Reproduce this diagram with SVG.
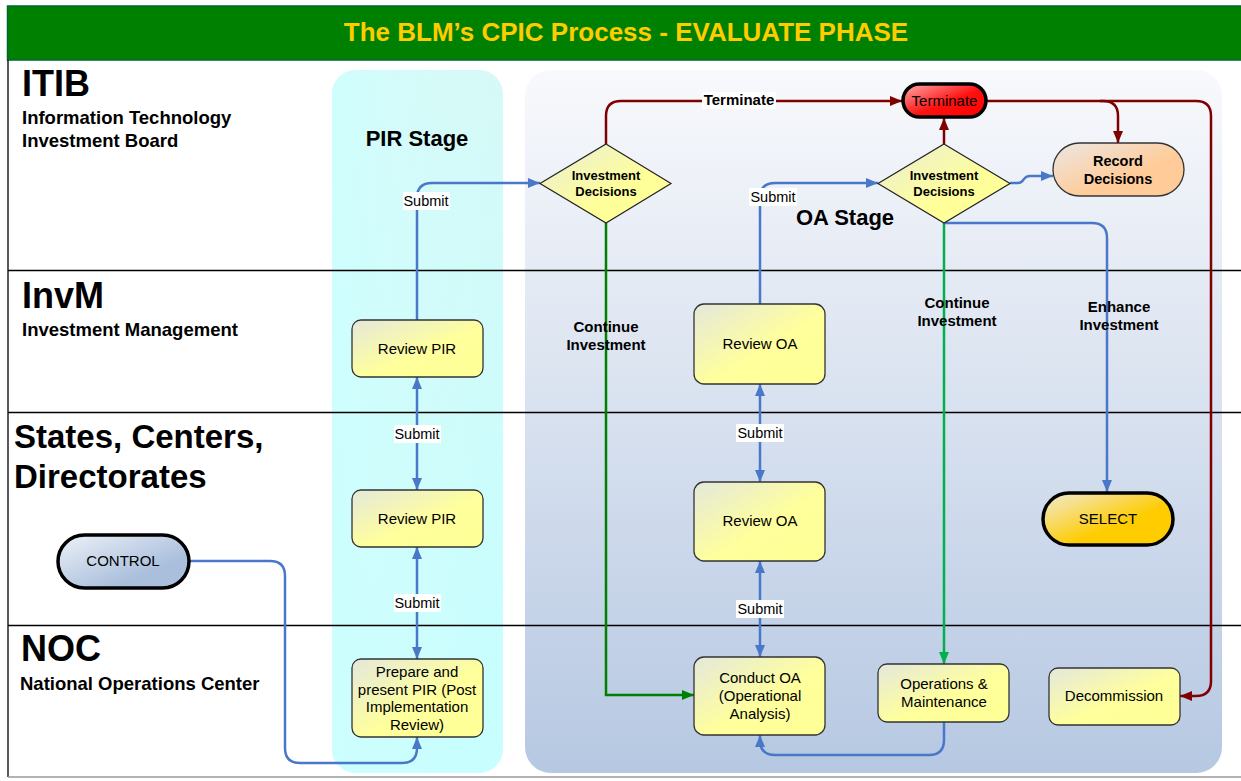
<svg xmlns="http://www.w3.org/2000/svg" width="1241" height="781" viewBox="0 0 1241 781">
  <defs>
    <linearGradient id="gProc" x1="0" y1="0" x2="1" y2="1">
      <stop offset="0" stop-color="#e4e8dc"/>
      <stop offset="0.55" stop-color="#ffff9c"/>
      <stop offset="1" stop-color="#ffff96"/>
    </linearGradient>
    <linearGradient id="gDiam" x1="0" y1="0" x2="1" y2="1">
      <stop offset="0" stop-color="#e8ecd8"/>
      <stop offset="0.6" stop-color="#ffff99"/>
    </linearGradient>
    <linearGradient id="gRecord" x1="0" y1="0" x2="1" y2="1">
      <stop offset="0" stop-color="#ece6e4"/>
      <stop offset="0.6" stop-color="#ffcc99"/>
    </linearGradient>
    <linearGradient id="gTerm" x1="0" y1="0" x2="1" y2="1">
      <stop offset="0" stop-color="#ffb0b0"/>
      <stop offset="0.55" stop-color="#ff1010"/>
      <stop offset="1" stop-color="#ff0000"/>
    </linearGradient>
    <linearGradient id="gSelect" x1="0" y1="0" x2="1" y2="1">
      <stop offset="0" stop-color="#f0ead8"/>
      <stop offset="0.6" stop-color="#ffcc00"/>
    </linearGradient>
    <linearGradient id="gControl" x1="0" y1="0" x2="1" y2="1">
      <stop offset="0" stop-color="#eef2f8"/>
      <stop offset="0.7" stop-color="#aabfdc"/>
    </linearGradient>
    <linearGradient id="gPir" x1="0" y1="0" x2="0.6" y2="1">
      <stop offset="0" stop-color="#e4f6f2"/>
      <stop offset="0.5" stop-color="#d4faf8"/>
      <stop offset="1" stop-color="#c8fefe"/>
    </linearGradient>
    <linearGradient id="gPirH" x1="0" y1="0" x2="1" y2="0">
      <stop offset="0" stop-color="#ccffff" stop-opacity="0.9"/>
      <stop offset="1" stop-color="#ccffff" stop-opacity="0"/>
    </linearGradient>
    <linearGradient id="gOa" x1="0" y1="0" x2="0" y2="1">
      <stop offset="0" stop-color="#f8f9fc"/>
      <stop offset="1" stop-color="#b6c8e2"/>
    </linearGradient>
    <marker id="aBlue" viewBox="0 0 12 10" refX="12" refY="5" markerWidth="12" markerHeight="10" markerUnits="userSpaceOnUse" orient="auto-start-reverse">
      <path d="M0,0 L12,5 L0,10 z" fill="#4a78c8"/>
    </marker>
    <marker id="aRed" viewBox="0 0 12 10" refX="12" refY="5" markerWidth="12" markerHeight="10" markerUnits="userSpaceOnUse" orient="auto-start-reverse">
      <path d="M0,0 L12,5 L0,10 z" fill="#800000"/>
    </marker>
    <marker id="aGreen" viewBox="0 0 12 10" refX="12" refY="5" markerWidth="12" markerHeight="10" markerUnits="userSpaceOnUse" orient="auto-start-reverse">
      <path d="M0,0 L12,5 L0,10 z" fill="#008000"/>
    </marker>
    <marker id="aGreen2" viewBox="0 0 12 10" refX="12" refY="5" markerWidth="12" markerHeight="10" markerUnits="userSpaceOnUse" orient="auto-start-reverse">
      <path d="M0,0 L12,5 L0,10 z" fill="#00b050"/>
    </marker>
  </defs>
  <style>
    text { font-family: "Liberation Sans", Arial, sans-serif; fill: #000; }
    .title { font-size: 26px; font-weight: bold; fill: #ffcc00; }
    .lane { font-size: 36px; font-weight: bold; }
    .lane2 { font-size: 33px; font-weight: bold; }
    .sub { font-size: 18.5px; font-weight: bold; }
    .stage { font-size: 22px; font-weight: bold; }
    .node { font-size: 15px; }
    .bnode { font-size: 14.5px; font-weight: bold; }
    .dnode { font-size: 13px; font-weight: bold; }
    .lbl { font-size: 14.5px; }
    .blbl { font-size: 15px; font-weight: bold; }
    .proc { fill: url(#gProc); stroke: #333; stroke-width: 1.3; }
    .cb { fill: none; stroke: #4a78c8; stroke-width: 2.5; }
    .cr { fill: none; stroke: #800000; stroke-width: 2.5; }
    .cg { fill: none; stroke: #008000; stroke-width: 2.5; }
    .cg2 { fill: none; stroke: #00b050; stroke-width: 2.5; }
    .lanes { stroke: #000; stroke-width: 1.3; }
  </style>

  <!-- canvas and title bar -->
  <rect x="0" y="0" width="1241" height="781" fill="#fff"/>
  <rect x="7.5" y="6" width="1240" height="54" fill="#008000" stroke="#063" stroke-width="1.5"/>
  <text class="title" x="626" y="41" text-anchor="middle">The BLM’s CPIC Process - EVALUATE PHASE</text>

  <!-- stage panels -->
  <rect x="332" y="70" width="171" height="703" rx="24" fill="url(#gPir)"/>
  <rect x="332" y="70" width="171" height="703" rx="24" fill="url(#gPirH)"/>
  <rect x="525" y="70" width="697" height="703" rx="26" fill="url(#gOa)"/>

  <!-- swim lane rules -->
  <g class="lanes">
    <line x1="8" y1="60" x2="8" y2="777"/>
    <line x1="8" y1="270.5" x2="1241" y2="270.5"/>
    <line x1="8" y1="412.5" x2="1241" y2="412.5"/>
    <line x1="8" y1="625.5" x2="1241" y2="625.5"/>
  </g>
  <line x1="8" y1="777" x2="1241" y2="777" stroke="#999" stroke-width="1.5"/>

  <!-- lane titles -->
  <text class="lane" x="22" y="96">ITIB</text>
  <text class="sub" x="22" y="124">Information Technology</text>
  <text class="sub" x="22" y="147">Investment Board</text>
  <text class="lane" x="22" y="308">InvM</text>
  <text class="sub" x="22" y="336">Investment Management</text>
  <text class="lane2" x="14" y="448">States, Centers,</text>
  <text class="lane2" x="14" y="488">Directorates</text>
  <text class="lane" x="21" y="661">NOC</text>
  <text class="sub" x="20" y="690">National Operations Center</text>

  <text class="stage" x="417" y="146" text-anchor="middle">PIR Stage</text>
  <text class="stage" x="845" y="225" text-anchor="middle">OA Stage</text>

  <!-- connectors -->
  <g id="connectors">
    <path class="cb" d="M417,320 V198 Q417,183 432,183 H540" marker-end="url(#aBlue)"/>
    <path class="cb" d="M417,377 V490" marker-start="url(#aBlue)" marker-end="url(#aBlue)"/>
    <path class="cb" d="M417,547 V659" marker-start="url(#aBlue)" marker-end="url(#aBlue)"/>
    <path class="cb" d="M190,561 H270 Q285,561 285,576 V748 Q285,763 300,763 H402 Q417,763 417,748 V737" marker-end="url(#aBlue)"/>
    <path class="cr" d="M606,144 V116 Q606,101 621,101 H902" marker-end="url(#aRed)"/>
    <path class="cg" d="M606,223 V695 H694" marker-end="url(#aGreen)"/>
    <path class="cb" d="M760,304 V198 Q760,183 775,183 H878" marker-end="url(#aBlue)"/>
    <path class="cb" d="M760,384 V482" marker-start="url(#aBlue)" marker-end="url(#aBlue)"/>
    <path class="cb" d="M760,561 V657" marker-start="url(#aBlue)" marker-end="url(#aBlue)"/>
    <path class="cr" d="M944,144 V118" marker-end="url(#aRed)"/>
    <path class="cb" d="M1010,183 H1018 C1025,183 1022,176 1030,176 H1053" marker-end="url(#aBlue)"/>
    <path class="cr" d="M987,101 H1103 Q1118,101 1118,116 V143" marker-end="url(#aRed)"/>
    <path class="cr" d="M1100,101 H1196 Q1211,101 1211,116 V681 Q1211,696 1196,696 H1180" marker-end="url(#aRed)"/>
    <path class="cg2" d="M944,223 V664" marker-end="url(#aGreen2)"/>
    <path class="cb" d="M944,223 H1092 Q1107,223 1107,238 V492" marker-end="url(#aBlue)"/>
    <path class="cb" d="M944,722 V740 Q944,755 929,755 H775 Q760,755 760,740 V735" marker-end="url(#aBlue)"/>

    <!-- connector labels -->
    <rect x="403" y="192" width="47" height="18" fill="#fff"/>
    <text class="lbl" x="426" y="206" text-anchor="middle">Submit</text>
    <rect x="394" y="425" width="47" height="18" fill="#fff"/>
    <text class="lbl" x="417" y="439" text-anchor="middle">Submit</text>
    <rect x="394" y="594" width="47" height="18" fill="#fff"/>
    <text class="lbl" x="417" y="608" text-anchor="middle">Submit</text>
    <rect x="749" y="188" width="48" height="18" fill="#fff"/>
    <text class="lbl" x="773" y="202" text-anchor="middle">Submit</text>
    <rect x="736" y="424" width="48" height="18" fill="#fff"/>
    <text class="lbl" x="760" y="438" text-anchor="middle">Submit</text>
    <rect x="736" y="600" width="48" height="18" fill="#fff"/>
    <text class="lbl" x="760" y="614" text-anchor="middle">Submit</text>
    <rect x="702" y="92" width="74" height="17" fill="#fff"/>
    <text class="blbl" x="739" y="105" text-anchor="middle">Terminate</text>
    <text class="blbl" x="606" y="332" text-anchor="middle">Continue</text>
    <text class="blbl" x="606" y="350" text-anchor="middle">Investment</text>
    <text class="blbl" x="957" y="308" text-anchor="middle">Continue</text>
    <text class="blbl" x="957" y="326" text-anchor="middle">Investment</text>
    <text class="blbl" x="1119" y="312" text-anchor="middle">Enhance</text>
    <text class="blbl" x="1119" y="330" text-anchor="middle">Investment</text>
  </g>

  <!-- nodes -->
  <g id="review-pir-invm">
    <rect class="proc" x="352" y="320" width="131" height="57" rx="9"/>
    <text class="node" x="417" y="354" text-anchor="middle">Review PIR</text>
  </g>
  <g id="review-pir-states">
    <rect class="proc" x="352" y="490" width="131" height="57" rx="9"/>
    <text class="node" x="417" y="524" text-anchor="middle">Review PIR</text>
  </g>
  <g id="prepare-pir">
    <rect class="proc" x="352" y="659" width="131" height="78" rx="9"/>
    <text class="node" x="417" y="677" text-anchor="middle">Prepare and</text>
    <text class="node" x="417" y="695" text-anchor="middle">present PIR (Post</text>
    <text class="node" x="417" y="712" text-anchor="middle">Implementation</text>
    <text class="node" x="417" y="730" text-anchor="middle">Review)</text>
  </g>
  <g id="review-oa-invm">
    <rect class="proc" x="694" y="304" width="131" height="80" rx="10"/>
    <text class="node" x="760" y="349" text-anchor="middle">Review OA</text>
  </g>
  <g id="review-oa-states">
    <rect class="proc" x="694" y="482" width="131" height="79" rx="10"/>
    <text class="node" x="760" y="526" text-anchor="middle">Review OA</text>
  </g>
  <g id="conduct-oa">
    <rect class="proc" x="694" y="657" width="131" height="78" rx="10"/>
    <text class="node" x="760" y="683" text-anchor="middle">Conduct OA</text>
    <text class="node" x="760" y="701" text-anchor="middle">(Operational</text>
    <text class="node" x="760" y="719" text-anchor="middle">Analysis)</text>
  </g>
  <g id="operations-maintenance">
    <rect class="proc" x="878" y="664" width="131" height="58" rx="9"/>
    <text class="node" x="944" y="689" text-anchor="middle">Operations &amp;</text>
    <text class="node" x="944" y="707" text-anchor="middle">Maintenance</text>
  </g>
  <g id="decommission">
    <rect class="proc" x="1049" y="668" width="131" height="57" rx="9"/>
    <text class="node" x="1114" y="701" text-anchor="middle">Decommission</text>
  </g>
  <g id="decision-pir">
    <polygon points="606,144 671,183.5 606,223 540,183.5" fill="url(#gDiam)" stroke="#222" stroke-width="1.2"/>
    <text class="dnode" x="606" y="180" text-anchor="middle">Investment</text>
    <text class="dnode" x="606" y="196" text-anchor="middle">Decisions</text>
  </g>
  <g id="decision-oa">
    <polygon points="944,144 1010,183.5 944,223 878,183.5" fill="url(#gDiam)" stroke="#222" stroke-width="1.2"/>
    <text class="dnode" x="944" y="180" text-anchor="middle">Investment</text>
    <text class="dnode" x="944" y="196" text-anchor="middle">Decisions</text>
  </g>
  <g id="terminate">
    <rect x="903" y="84" width="83" height="33" rx="16.5" fill="url(#gTerm)" stroke="#000" stroke-width="3.5"/>
    <text class="node" x="944.5" y="106" text-anchor="middle">Terminate</text>
  </g>
  <g id="record-decisions">
    <rect x="1053" y="143" width="131" height="53" rx="26.5" fill="url(#gRecord)" stroke="#333" stroke-width="1.3"/>
    <text class="bnode" x="1118" y="166" text-anchor="middle">Record</text>
    <text class="bnode" x="1118" y="184" text-anchor="middle">Decisions</text>
  </g>
  <g id="select">
    <rect x="1043" y="493" width="130" height="52" rx="26" fill="url(#gSelect)" stroke="#000" stroke-width="3.5"/>
    <text class="node" x="1108" y="524" text-anchor="middle">SELECT</text>
  </g>
  <g id="control">
    <rect x="58" y="535" width="131" height="53" rx="26.5" fill="url(#gControl)" stroke="#000" stroke-width="3.5"/>
    <text class="node" x="123" y="566" text-anchor="middle">CONTROL</text>
  </g>
</svg>
